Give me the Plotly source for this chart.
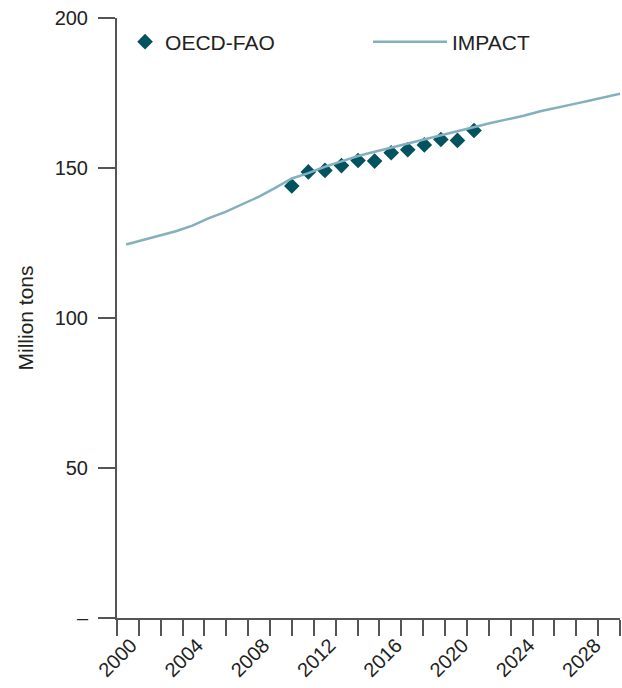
import plotly.graph_objects as go

# IMPACT projection (million tons)
impact_years = list(range(2000, 2031))
impact_values = [124.5, 125.9, 127.3, 128.9, 130.8, 133.3, 135.4, 137.8, 140.4, 143.4,
                 146.5, 148.3, 150.4, 152.2, 154.0, 155.4, 156.8, 158.2, 159.5, 161.0,
                 162.3, 163.6, 165.0, 166.2, 167.4, 168.9, 170.0, 171.3, 172.5, 173.8,
                 175.0]

# OECD-FAO (million tons)
oecd_years = list(range(2010, 2022))
oecd_values = [144.0, 148.7, 149.2, 150.8, 152.5, 152.3, 155.1, 156.1, 157.7, 159.5,
               159.2, 162.5]

x_tick_vals = [2000, 2004, 2008, 2012, 2016, 2020, 2024, 2028]
y_tick_vals = [0, 50, 100, 150, 200]
y_tick_text = ["–", "50", "100", "150", "200"]

FONT = "Liberation Sans, Arial, sans-serif"
AXIS = "#555555"
TXT = "#222222"

fig = go.Figure()
fig.add_trace(go.Scatter(
    x=oecd_years, y=oecd_values, mode="markers", name="OECD-FAO",
    marker=dict(symbol="diamond", size=12, color="#02525f"),
    legend="legend", showlegend=True,
))
fig.add_trace(go.Scatter(
    x=impact_years, y=impact_values, mode="lines", name="IMPACT",
    line=dict(color="#84afbe", width=2.5),
    legend="legend2", showlegend=True,
))

x0, x1 = 1999.45, 2029.81
fig.update_layout(
    width=622, height=688, autosize=False,
    margin=dict(l=117, r=2, t=18, b=70),
    paper_bgcolor="white", plot_bgcolor="white",
    showlegend=True,
    font=dict(family=FONT, size=20, color=TXT),
    legend=dict(orientation="h", x=0.016, y=0.96, xanchor="left", yanchor="middle",
                font=dict(size=21, color=TXT), bgcolor="rgba(0,0,0,0)"),
    legend2=dict(orientation="h", x=0.499, y=0.96, xanchor="left", yanchor="middle",
                 font=dict(size=21, color=TXT), bgcolor="rgba(0,0,0,0)",
                 itemwidth=74),
    xaxis=dict(
        range=[x0, x1 + 0.001], showgrid=False, zeroline=False, automargin=False,
        showline=True, linecolor=AXIS, linewidth=1.5,
        tickmode="array", tickvals=x_tick_vals, ticks="", tickangle=-45,
        ticklabelstandoff=6, ticklabelshift=5, ticklabeloverflow="allow",
        tickfont=dict(size=20, color=TXT),
        minor=dict(tickmode="linear", tick0=x0, dtick=(x1 - x0) / 23,
                   ticks="outside", ticklen=16, tickwidth=1.5, tickcolor=AXIS,
                   showgrid=False),
    ),
    yaxis=dict(
        range=[0, 200], showgrid=False, zeroline=False, automargin=False,
        showline=True, linecolor=AXIS, linewidth=2,
        tickmode="array", tickvals=y_tick_vals, ticktext=y_tick_text,
        ticks="outside", ticklen=17, tickwidth=1.5, tickcolor=AXIS,
        ticklabelstandoff=6, ticklabeloverflow="allow",
        tickfont=dict(size=20, color=TXT),
        title=dict(text="Million tons", font=dict(size=21, color=TXT), standoff=15),
    ),
)

fig.write_html(
    "out.html",
    config={"displayModeBar": False},
    post_script="document.body.style.margin='0';document.body.style.overflow='hidden';",
)
